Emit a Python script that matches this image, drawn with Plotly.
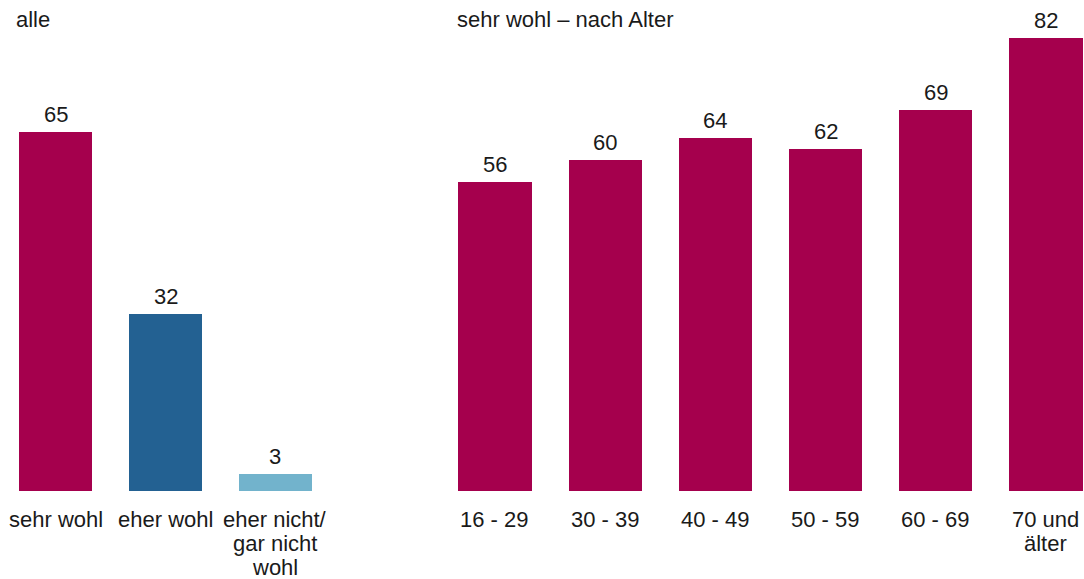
import plotly.graph_objects as go

# Overall distribution
cats_all = ["sehr wohl", "eher wohl", "eher nicht/<br>gar nicht<br>wohl"]
vals_all = [65, 32, 3]
colors_all = ["#A5004D", "#236192", "#72B3CC"]

# "sehr wohl" by age group
cats_age = ["16 - 29", "30 - 39", "40 - 49", "50 - 59", "60 - 69", "70 und<br>älter"]
vals_age = [56, 60, 64, 62, 69, 82]
color_age = "#A5004D"

W, H = 1084, 579
FONT = "Liberation Sans, Arial, sans-serif"
TXT = "#1a1a1a"
FS = 22
LINE = 24  # spacing between lines of a category label

fig = go.Figure()

fig.add_trace(go.Bar(
    x=cats_all, y=vals_all, marker=dict(color=colors_all, line=dict(width=0)),
    width=0.665, xaxis="x", yaxis="y", showlegend=False, hoverinfo="skip",
))
fig.add_trace(go.Bar(
    x=cats_age, y=vals_age, marker=dict(color=color_age, line=dict(width=0)),
    width=0.665, xaxis="x2", yaxis="y2", showlegend=False, hoverinfo="skip",
))

annotations = []


def add_panel_labels(cats, vals, xref, yref):
    for c, v in zip(cats, vals):
        # value above the bar
        annotations.append(dict(x=c, y=v, xref=xref, yref=yref, text=str(v),
                                showarrow=False, yanchor="bottom", yshift=3,
                                font=dict(family=FONT, size=FS, color=TXT)))
        # category label below the baseline, one line at a time
        for k, part in enumerate(c.split("<br>")):
            annotations.append(dict(x=c, y=0, xref=xref, yref=yref, text=part,
                                    showarrow=False, yanchor="middle",
                                    yshift=-28 - LINE * k,
                                    font=dict(family=FONT, size=FS, color=TXT)))


add_panel_labels(cats_all, vals_all, "x", "y")
add_panel_labels(cats_age, vals_age, "x2", "y2")

# Panel headings
annotations.append(dict(x=14 / W, y=1, xref="paper", yref="paper", yanchor="top",
                        xanchor="left", text="alle", showarrow=False, yshift=-5,
                        font=dict(family=FONT, size=FS, color=TXT)))
annotations.append(dict(x=455 / W, y=1, xref="paper", yref="paper", yanchor="top",
                        xanchor="left", text="sehr wohl – nach Alter", showarrow=False,
                        yshift=-5, font=dict(family=FONT, size=FS, color=TXT)))

y_top = 491 / 5.52

fig.update_layout(
    width=W, height=H,
    margin=dict(l=0, r=0, t=0, b=88),
    paper_bgcolor="white", plot_bgcolor="white",
    font=dict(family=FONT, size=FS, color=TXT),
    bargap=0,
    xaxis=dict(domain=[0, 330 / W], range=[-0.51, 2.497], type="category",
               showgrid=False, zeroline=False, showline=False, ticks="",
               showticklabels=False, fixedrange=True, anchor="y"),
    xaxis2=dict(domain=[440 / W, 1], range=[-0.499, 5.345], type="category",
                showgrid=False, zeroline=False, showline=False, ticks="",
                showticklabels=False, fixedrange=True, anchor="y2"),
    yaxis=dict(domain=[0, 1], range=[0, y_top], visible=False, fixedrange=True,
               anchor="x"),
    yaxis2=dict(domain=[0, 1], range=[0, y_top], visible=False, fixedrange=True,
                anchor="x2"),
    annotations=annotations,
)

fig.write_html("out.html")
